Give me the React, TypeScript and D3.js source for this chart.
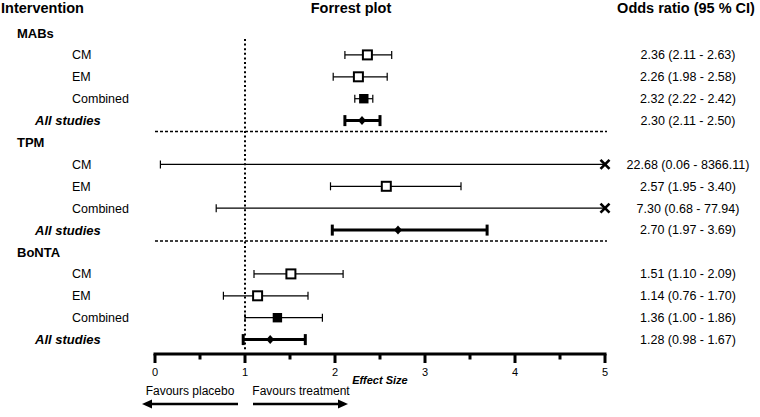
import React from "react";
import * as d3 from "d3";

const groups = ["MABs", "TPM", "BoNTA"];
const subLabels = ["CM", "EM", "Combined", "All studies"];
const oddsRatio = [2.36, 2.26, 2.32, 2.3, 22.68, 2.57, 7.3, 2.7, 1.51, 1.14, 1.36, 1.28];
const ciLower = [2.11, 1.98, 2.22, 2.11, 0.06, 1.95, 0.68, 1.97, 1.1, 0.76, 1.0, 0.98];
const ciUpper = [2.63, 2.58, 2.42, 2.5, 8366.11, 3.4, 77.94, 3.69, 2.09, 1.7, 1.86, 1.67];
const markerKinds = ["open", "open", "filled", "diamond"];
const axisTicks = [0, 1, 2, 3, 4, 5];
const minorTicks = [0.5, 1.5, 2.5, 3.5, 4.5];

const W = 760;
const H = 417;
const FONT = "Liberation Sans, Arial, Helvetica, sans-serif";

export default function App() {
  const x = d3.scaleLinear().domain([0, 5]).range([155, 605]);
  const y = d3.scaleLinear().domain([0, 14]).range([33, 339.6]);
  const xMax = 5;
  const axisY = 354;
  const valueX = 688;

  const rows: any[] = [];
  groups.forEach((g, gi) => {
    subLabels.forEach((s, si) => {
      const k = gi * 4 + si;
      rows.push({ g, gi, s, si, idx: gi * 5 + si + 1, or: oddsRatio[k], lo: ciLower[k], hi: ciUpper[k], kind: markerKinds[si] });
    });
  });

  const fmt = (v: number) => v.toFixed(2);

  return (
    <svg width={W} height={H} style={{ position: "absolute", left: 0, top: 0, background: "#fff" }} fontFamily={FONT}>
      <rect x={0} y={0} width={W} height={H} fill="#fff" />
      {/* Headers */}
      <text x={1} y={13} fontSize={14.5} fontWeight="bold">Intervention</text>
      <text x={351} y={13} fontSize={14.5} fontWeight="bold" textAnchor="middle">Forrest plot</text>
      <text x={686} y={13} fontSize={14.5} fontWeight="bold" textAnchor="middle">Odds ratio (95 % CI)</text>

      {/* Group headers */}
      {groups.map((g, gi) => (
        <text key={g} x={17} y={y(gi * 5)} dy="0.35em" fontSize={13} fontWeight="bold">{g}</text>
      ))}

      {/* Separators */}
      {[4.5, 9.5].map((v) => (
        <line key={v} x1={x(0)} x2={x(5) + 2} y1={y(v)} y2={y(v)} stroke="#000" strokeWidth={1.5} strokeDasharray="3 2" />
      ))}

      {/* reference line at 1 */}
      <line x1={x(1)} x2={x(1)} y1={39} y2={351} stroke="#000" strokeWidth={2} strokeDasharray="2 2.6" />

      {/* rows */}
      {rows.map((r) => {
        const cy = y(r.idx);
        const isAll = r.si === 3;
        const lx = x(Math.max(0, r.lo));
        const hiClip = r.hi > xMax;
        const hx = x(Math.min(xMax, r.hi));
        const capH = isAll ? 5.5 : 4;
        const sw = isAll ? 3 : 1.2;
        const pClip = r.or > xMax;
        const px = x(Math.min(xMax, r.or));
        let marker: any = null;
        if (pClip) {
          marker = (
            <g stroke="#000" strokeWidth={2.6}>
              <line x1={px - 4.5} x2={px + 4.5} y1={cy - 4.5} y2={cy + 4.5} />
              <line x1={px - 4.5} x2={px + 4.5} y1={cy + 4.5} y2={cy - 4.5} />
            </g>
          );
        } else if (r.kind === "open") {
          marker = <rect x={px - 4.5} y={cy - 4.5} width={9} height={9} fill="#fff" stroke="#000" strokeWidth={2} />;
        } else if (r.kind === "filled") {
          marker = <rect x={px - 4.7} y={cy - 4.7} width={9.4} height={9.4} fill="#000" />;
        } else {
          marker = <path d={`M${px},${cy - 4.5}L${px + 4},${cy}L${px},${cy + 4.5}L${px - 4},${cy}Z`} fill="#000" />;
        }
        return (
          <g key={r.g + r.s}>
            <text
              x={isAll ? 35 : 72}
              y={cy}
              dy="0.35em"
              fontSize={isAll ? 13 : 12.5}
              fontWeight={isAll ? "bold" : "normal"}
              fontStyle={isAll ? "italic" : "normal"}
            >
              {r.s}
            </text>
            <line x1={lx} x2={hx} y1={cy} y2={cy} stroke="#000" strokeWidth={sw} />
            <line x1={lx} x2={lx} y1={cy - capH} y2={cy + capH} stroke="#000" strokeWidth={isAll ? 3 : 1.2} />
            {!hiClip && <line x1={hx} x2={hx} y1={cy - capH} y2={cy + capH} stroke="#000" strokeWidth={isAll ? 3 : 1.2} />}
            {marker}
            <text x={valueX} y={cy} dy="0.35em" fontSize={12.5} textAnchor="middle">
              {`${fmt(r.or)} (${fmt(r.lo)} - ${fmt(r.hi)})`}
            </text>
          </g>
        );
      })}

      {/* axis */}
      <line x1={x(0) - 1.5} x2={x(5) + 1.5} y1={axisY} y2={axisY} stroke="#000" strokeWidth={3} />
      {axisTicks.map((t) => (
        <g key={t}>
          <line x1={x(t)} x2={x(t)} y1={axisY} y2={axisY + 9} stroke="#000" strokeWidth={3} />
          <text x={x(t)} y={axisY + 18} dy="0.35em" fontSize={11} textAnchor="middle">{t}</text>
        </g>
      ))}
      {minorTicks.map((t) => (
        <line key={t} x1={x(t)} x2={x(t)} y1={axisY} y2={axisY + 5.5} stroke="#000" strokeWidth={3} />
      ))}
      <text x={380} y={380} dy="0.35em" fontSize={11} fontWeight="bold" fontStyle="italic" textAnchor="middle">Effect Size</text>

      {/* favours */}
      <text x={190} y={391} dy="0.35em" fontSize={12} textAnchor="middle">Favours placebo</text>
      <text x={301} y={391} dy="0.35em" fontSize={12} textAnchor="middle">Favours treatment</text>
      <line x1={150} x2={238} y1={404} y2={404} stroke="#000" strokeWidth={2.5} />
      <path d="M142,404L152,399.5L152,408.5Z" fill="#000" />
      <line x1={253} x2={340} y1={404} y2={404} stroke="#000" strokeWidth={2.5} />
      <path d="M348,404L338,399.5L338,408.5Z" fill="#000" />
    </svg>
  );
}
